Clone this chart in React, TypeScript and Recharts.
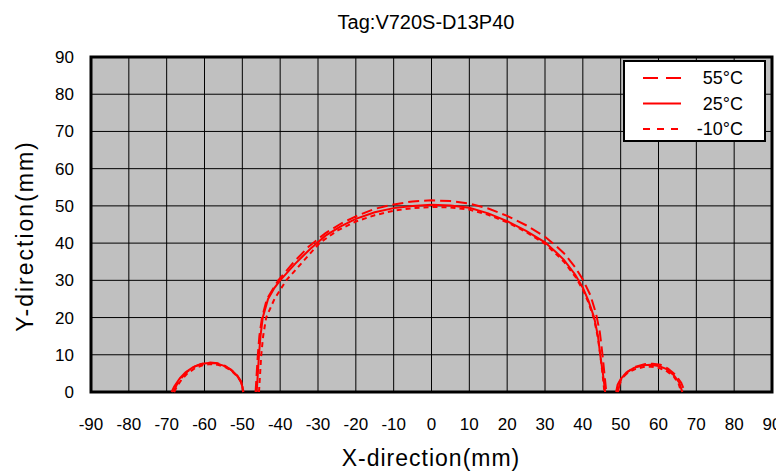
import * as React from 'react';
import { LineChart, Line, XAxis, YAxis, CartesianGrid, ReferenceArea } from 'recharts';

// Tick values
const X_TICKS = [-90, -80, -70, -60, -50, -40, -30, -20, -10, 0, 10, 20, 30, 40, 50, 60, 70, 80, 90];
const Y_TICKS = [0, 10, 20, 30, 40, 50, 60, 70, 80, 90];

type Pt = { x: number; y: number };

// 25°C (solid)
const lobeLeft25: Pt[] = [
  { x: -68.7, y: 0 }, { x: -68, y: 1.5 }, { x: -66.5, y: 3.7 }, { x: -65, y: 5.3 }, { x: -63, y: 6.7 },
  { x: -61, y: 7.5 }, { x: -59, y: 7.8 }, { x: -57, y: 7.7 }, { x: -55, y: 7.1 }, { x: -53, y: 6 },
  { x: -51.5, y: 4.5 }, { x: -50.5, y: 3 }, { x: -50, y: 1.5 }, { x: -49.8, y: 0 },
];
const main25: Pt[] = [
  { x: -46.2, y: 0 }, { x: -45.9, y: 5 }, { x: -45.6, y: 10 }, { x: -45.2, y: 15 }, { x: -44.6, y: 20 },
  { x: -43.2, y: 25 }, { x: -41.5, y: 28 }, { x: -40, y: 30 }, { x: -36, y: 34.5 }, { x: -32, y: 38.5 },
  { x: -28, y: 42 }, { x: -24, y: 44.5 }, { x: -20, y: 46.5 }, { x: -15, y: 48.3 }, { x: -10, y: 49.4 },
  { x: -5, y: 50 }, { x: 0, y: 50.3 }, { x: 5, y: 50.1 }, { x: 10, y: 49.5 }, { x: 15, y: 48 },
  { x: 20, y: 45.9 }, { x: 25, y: 43.3 }, { x: 30, y: 40.2 }, { x: 33, y: 37.5 }, { x: 35, y: 35.5 },
  { x: 38, y: 31.5 }, { x: 40, y: 28 }, { x: 41.5, y: 24.5 }, { x: 43, y: 20 }, { x: 44, y: 15 },
  { x: 44.6, y: 10 }, { x: 45.3, y: 5 }, { x: 45.9, y: 0 },
];
const lobeRight25: Pt[] = [
  { x: 48.8, y: 0 }, { x: 49.2, y: 2 }, { x: 50, y: 3.5 }, { x: 51.5, y: 5.2 }, { x: 53.5, y: 6.5 },
  { x: 56, y: 7.2 }, { x: 58, y: 7.3 }, { x: 60, y: 7 }, { x: 62, y: 6.2 }, { x: 64, y: 4.6 },
  { x: 65.5, y: 2.5 }, { x: 66.3, y: 0 },
];

// 55°C (long dash)
const lobeLeft55: Pt[] = [
  { x: -68.2, y: 0 }, { x: -67.4, y: 1.8 }, { x: -66, y: 3.9 }, { x: -64.5, y: 5.5 }, { x: -62.5, y: 6.9 },
  { x: -60.5, y: 7.6 }, { x: -58.5, y: 7.9 }, { x: -56.5, y: 7.7 }, { x: -54.5, y: 7 }, { x: -52.8, y: 5.8 },
  { x: -51.3, y: 4.4 }, { x: -50.3, y: 2.8 }, { x: -49.9, y: 1.2 }, { x: -49.7, y: 0 },
];
const main55: Pt[] = [
  { x: -46.5, y: 0 }, { x: -46.2, y: 5 }, { x: -45.9, y: 10 }, { x: -45.5, y: 15 }, { x: -44.8, y: 20 },
  { x: -43.5, y: 25 }, { x: -40.5, y: 30 }, { x: -36.5, y: 34.8 }, { x: -32.5, y: 39 }, { x: -28, y: 42.7 },
  { x: -24, y: 45.2 }, { x: -20, y: 47.2 }, { x: -15, y: 49.2 }, { x: -10, y: 50.4 }, { x: -5, y: 51.2 },
  { x: 0, y: 51.5 }, { x: 5, y: 51.3 }, { x: 10, y: 50.6 }, { x: 15, y: 49.3 }, { x: 20, y: 47.3 },
  { x: 25, y: 44.8 }, { x: 30, y: 41.7 }, { x: 33, y: 39.2 }, { x: 35, y: 37.3 }, { x: 38, y: 33.5 },
  { x: 40, y: 30.2 }, { x: 42, y: 26 }, { x: 43.5, y: 21 }, { x: 44.5, y: 16 }, { x: 45.2, y: 10 },
  { x: 45.7, y: 5 }, { x: 46.2, y: 0 },
];
const lobeRight55: Pt[] = [
  { x: 49.3, y: 0 }, { x: 49.7, y: 2 }, { x: 50.5, y: 3.8 }, { x: 52, y: 5.6 }, { x: 54, y: 6.8 },
  { x: 56.5, y: 7.5 }, { x: 58.5, y: 7.6 }, { x: 60.5, y: 7.3 }, { x: 62.5, y: 6.3 }, { x: 64.5, y: 4.6 },
  { x: 66, y: 2.5 }, { x: 67, y: 0 },
];

// -10°C (short dash)
const lobeLeftM10: Pt[] = [
  { x: -68, y: 0 }, { x: -67.3, y: 1.5 }, { x: -66, y: 3.4 }, { x: -64.5, y: 5 }, { x: -62.5, y: 6.4 },
  { x: -60.5, y: 7.2 }, { x: -58.5, y: 7.5 }, { x: -56.5, y: 7.3 }, { x: -54.5, y: 6.7 }, { x: -52.8, y: 5.6 },
  { x: -51.3, y: 4.2 }, { x: -50.3, y: 2.6 }, { x: -49.9, y: 1 }, { x: -49.8, y: 0 },
];
const mainM10: Pt[] = [
  { x: -45.6, y: 0 }, { x: -45.3, y: 5 }, { x: -45, y: 10 }, { x: -44.5, y: 15 }, { x: -43.7, y: 20 },
  { x: -41.5, y: 25 }, { x: -38.4, y: 30 }, { x: -34, y: 35 }, { x: -29.6, y: 40 }, { x: -25, y: 43.3 },
  { x: -20, y: 45.8 }, { x: -15, y: 47.5 }, { x: -10, y: 48.7 }, { x: -5, y: 49.4 }, { x: 0, y: 49.7 },
  { x: 5, y: 49.6 }, { x: 10, y: 49 }, { x: 15, y: 47.6 }, { x: 20, y: 45.6 }, { x: 25, y: 43 },
  { x: 30, y: 39.8 }, { x: 33, y: 37 }, { x: 35, y: 35 }, { x: 38, y: 31 }, { x: 40, y: 27.5 },
  { x: 41.5, y: 24 }, { x: 43, y: 19.5 }, { x: 44, y: 14.5 }, { x: 44.6, y: 10 }, { x: 45.2, y: 5 },
  { x: 45.7, y: 0 },
];
const lobeRightM10: Pt[] = [
  { x: 49, y: 0 }, { x: 49.5, y: 2.2 }, { x: 50.5, y: 4 }, { x: 52, y: 5.3 }, { x: 54, y: 6.2 },
  { x: 56, y: 6.7 }, { x: 58, y: 6.8 }, { x: 60, y: 6.5 }, { x: 62, y: 5.7 }, { x: 64, y: 4.2 },
  { x: 65.3, y: 2.3 }, { x: 66, y: 0 },
];

const RED = '#FF0000';
const FONT = '"Liberation Sans", Arial, sans-serif';

const SERIES = [
  { name: '55°C', dash: '11 5', legendDash: '15 8', segments: [lobeLeft55, main55, lobeRight55] },
  { name: '25°C', dash: undefined, legendDash: undefined, segments: [lobeLeft25, main25, lobeRight25] },
  { name: '-10°C', dash: '5 4', legendDash: '7 7', segments: [lobeLeftM10, mainM10, lobeRightM10] },
];

function LegendBox() {
  return (
    <div
      style={{
        position: 'absolute',
        left: 615,
        top: 52,
        width: 139,
        height: 78,
        background: '#fff',
        border: '2px solid #000',
      }}
    >
      <svg width={139} height={78}>
        {SERIES.map((s, i) => {
          const cy = 16 + i * 25.5;
          return (
            <g key={s.name}>
              <line x1={18} x2={56} y1={cy} y2={cy} stroke={RED} strokeWidth={2} strokeDasharray={s.legendDash} />
              <text x={118} y={cy} dy="0.35em" textAnchor="end" fontSize={18} fontFamily={FONT} fill="#000">
                {s.name}
              </text>
            </g>
          );
        })}
      </svg>
    </div>
  );
}

export default function App() {
  return (
    <div style={{ position: 'relative', width: 776, height: 464, fontFamily: FONT, background: '#fff' }}>
      <div style={{ position: 'absolute', left: 268, top: 0, width: 300, lineHeight: '28px', textAlign: 'center', fontSize: 20 }}>
        Tag:V720S-D13P40
      </div>
      <LineChart width={776} height={464} margin={{ top: 49, right: 12, bottom: 40, left: 23 }}>
        <CartesianGrid stroke="#000" strokeWidth={1} fill="#C0C0C0" fillOpacity={1} />
        <XAxis
          type="number"
          dataKey="x"
          domain={[-90, 90]}
          ticks={X_TICKS}
          interval={0}
          height={40}
          axisLine={false}
          tickLine={false}
          tickSize={6}
          tickMargin={20}
          tick={{ fontSize: 17, fill: '#000', fontFamily: FONT }}
          allowDuplicatedCategory={false}
        />
        <YAxis
          type="number"
          dataKey="y"
          domain={[0, 90]}
          ticks={Y_TICKS}
          interval={0}
          width={60}
          axisLine={false}
          tickLine={false}
          tickSize={6}
          tickMargin={11}
          tick={{ fontSize: 17, fill: '#000', fontFamily: FONT }}
        />
        <ReferenceArea x1={-90} x2={90} y1={0} y2={90} fill="none" fillOpacity={0} stroke="#000" strokeWidth={3} />
        {SERIES.map((s) =>
          s.segments.map((seg, j) => (
            <Line
              key={`${s.name}-${j}`}
              data={seg}
              dataKey="y"
              type="linear"
              stroke={RED}
              strokeWidth={2}
              strokeDasharray={s.dash}
              dot={false}
              activeDot={false}
              isAnimationActive={false}
              legendType="none"
            />
          ))
        )}
      </LineChart>
      <div style={{ position: 'absolute', left: 273, top: 436, width: 300, lineHeight: '28px', textAlign: 'center', fontSize: 23, letterSpacing: 1 }}>
        X-direction(mm)
      </div>
      <div
        style={{
          position: 'absolute',
          left: 17 - 120,
          top: 228 - 14,
          width: 240,
          lineHeight: '28px',
          textAlign: 'center',
          fontSize: 23,
          letterSpacing: 2,
          transform: 'rotate(-90deg)',
        }}
      >
        Y-direction(mm)
      </div>
      <LegendBox />
    </div>
  );
}
